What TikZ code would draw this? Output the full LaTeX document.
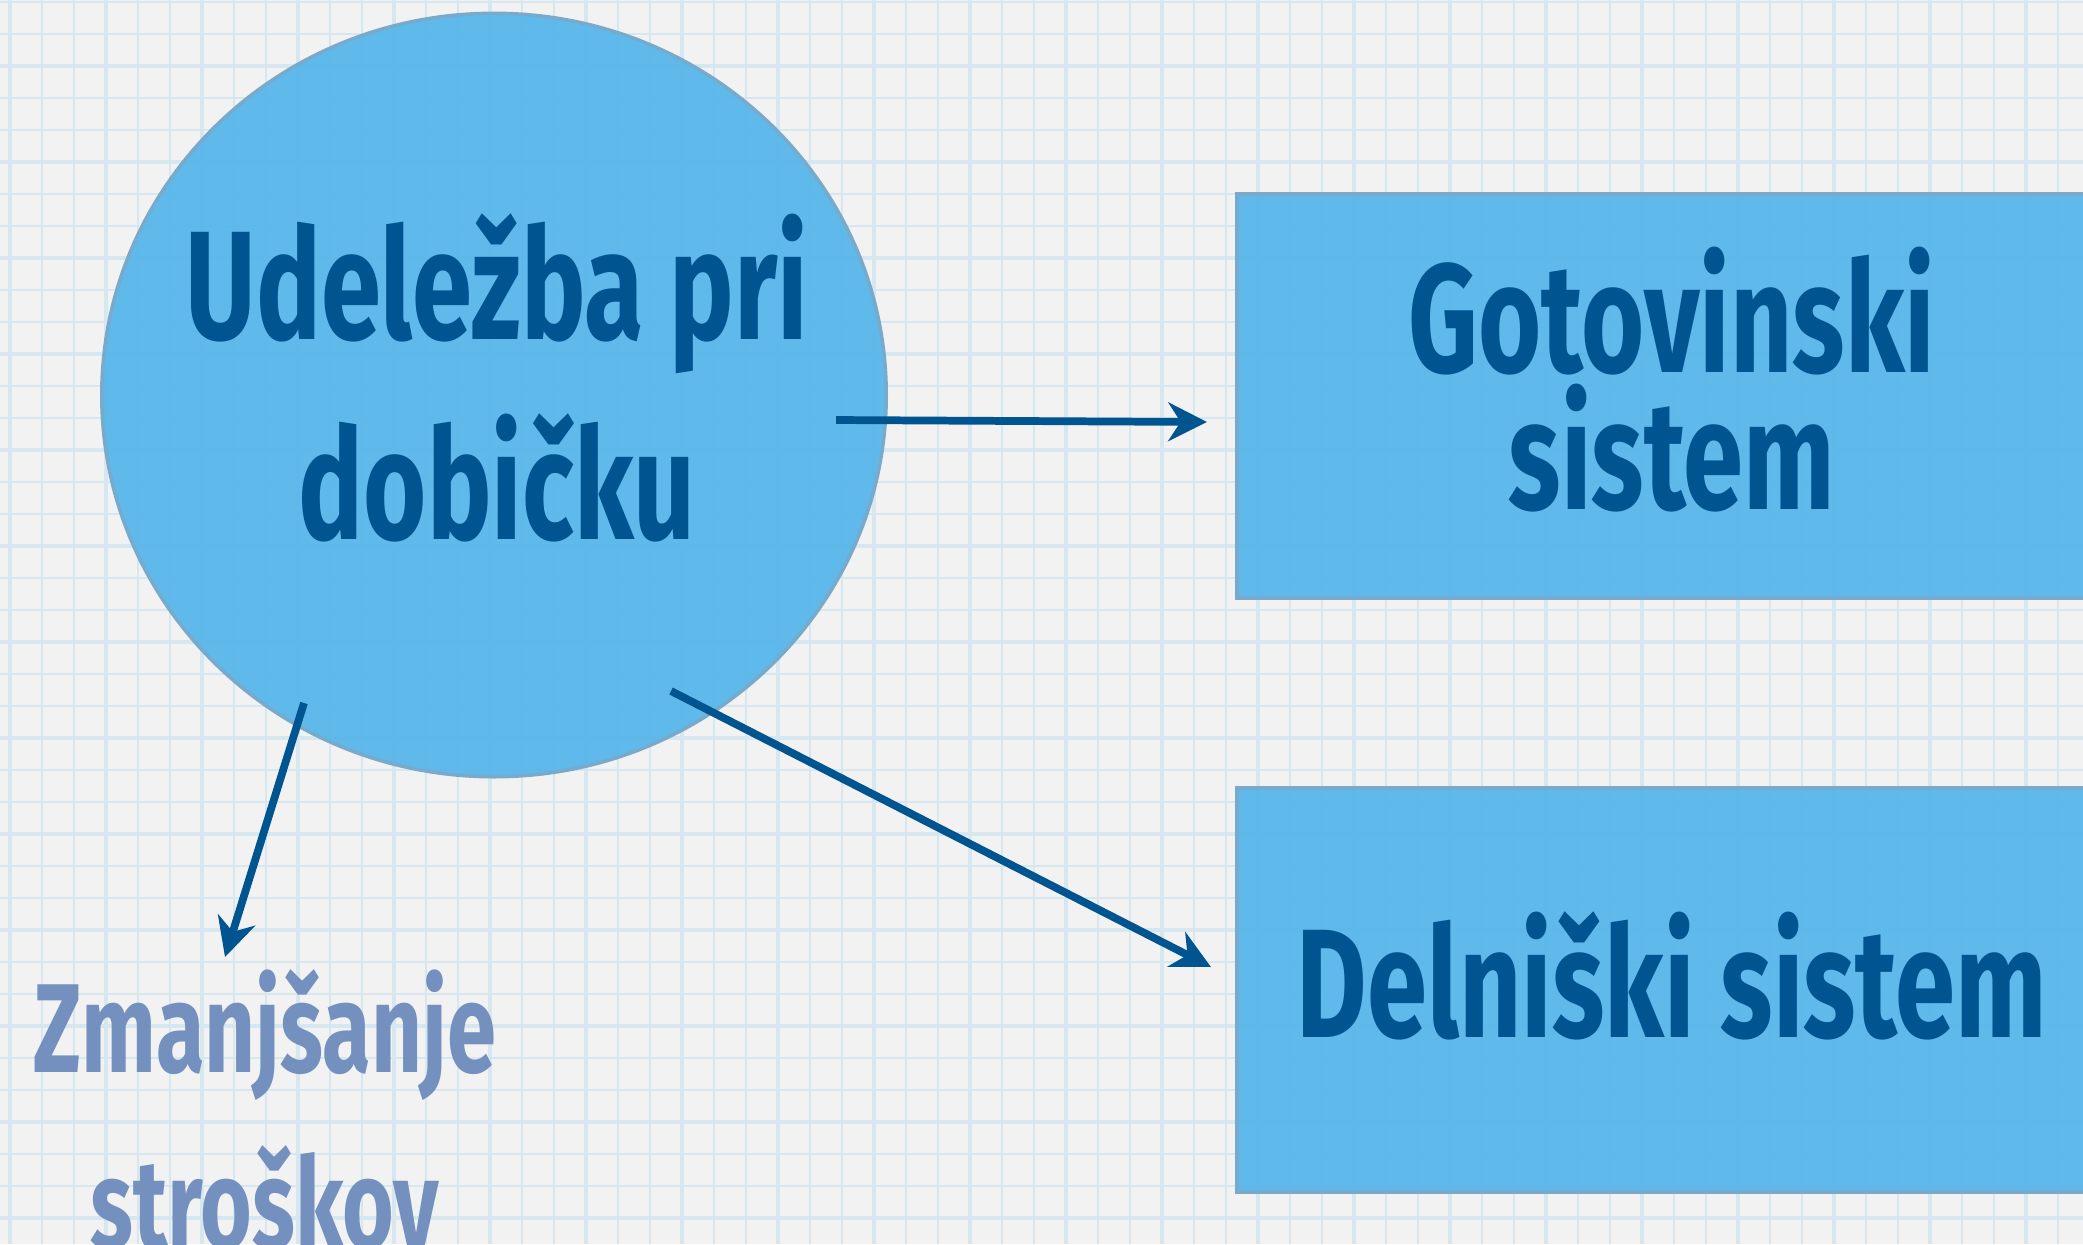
\documentclass[tikz,border=0pt]{standalone}
\usepackage{fontspec}
\newfontfamily\handfont[UprightFont={* Bold}, FakeStretch=0.7]{Fira Sans}
\usepackage{tikz}
\usetikzlibrary{calc}
\usetikzlibrary{arrows.meta}
\usetikzlibrary{shapes.geometric}
\definecolor{paper}{HTML}{F2F2F2}
\definecolor{gridblue}{HTML}{D6E7F0}
\definecolor{boxblue}{HTML}{58B6EA}
\definecolor{boxedge}{HTML}{78ABCB}
\definecolor{inkblue}{HTML}{00548F}
\definecolor{softblue}{HTML}{7390BE}
\tikzstyle{gridminor} = [draw=gridblue, line width=0.5pt]
\tikzstyle{gridmajor} = [draw=gridblue, line width=1.1pt]
\tikzstyle{bubble} = [ellipse, draw=boxedge, line width=1pt, fill=boxblue, fill opacity=0.95, inner sep=0pt, minimum width=7.84cm, minimum height=7.63cm]
\tikzstyle{boxnode} = [rectangle, draw=boxedge, line width=1pt, fill=boxblue, fill opacity=0.95, text opacity=1, inner sep=0pt, minimum width=8.7cm, minimum height=4.04cm, align=center, text=inkblue]
\tikzstyle{bigtext} = [align=center, inner sep=0pt, text=inkblue]
\tikzstyle{arr} = [draw=inkblue, line width=2.2pt, -{Stealth[length=11pt, width=11pt, inset=3.5pt]}]

\begin{document}
\begin{tikzpicture}[x=0.01cm, y=-0.01cm]
  \useasboundingbox (0,0) rectangle (2083,1244);
  \clip (0,0) rectangle (2083,1244);
  \fill[paper] (0,0) rectangle (2083,1244);

  % squared paper
  \foreach \x in {10,42,...,2083} \draw[gridminor] (\x,0) -- (\x,1244);
  \foreach \y in {2,34,...,1244} \draw[gridminor] (0,\y) -- (2083,\y);
  \foreach \x in {10,106,...,2083} \draw[gridmajor] (\x,0) -- (\x,1244);
  \foreach \y in {66,162,...,1244} \draw[gridmajor] (0,\y) -- (2083,\y);

  \node[bubble] (udelezba) at (494,395) {};
  \node[bigtext, font=\handfont\fontsize{44pt}{57pt}\selectfont] (udelezbaTxt) at (497,378) {Udeležba pri\\dobičku};
  \node[boxnode, font=\handfont\fontsize{44pt}{39pt}\selectfont, text depth=10pt] (gotov) at (1672,396) {Gotovinski\\sistem};
  \node[boxnode, font=\handfont\fontsize{44pt}{53pt}\selectfont, text depth=9pt] (delnis) at (1672,990) {Delniški sistem};
  \node[align=center, inner sep=0pt, text=softblue, font=\handfont\fontsize{36pt}{50pt}\selectfont] (stroski) at (265,1110) {Zmanjšanje\\stroškov};

  \draw[arr] ($(udelezba.center)+(342,25)$) -- ($(gotov.west)+(-28,26)$);
  \draw[arr] ($(udelezba.center)+(177,296)$) -- ($(delnis.west)+(-24,-23)$);
  \draw[arr] ($(udelezba.center)+(-190,308)$) -- ($(stroski.center)+(-40,-153)$);
\end{tikzpicture}
\end{document}
